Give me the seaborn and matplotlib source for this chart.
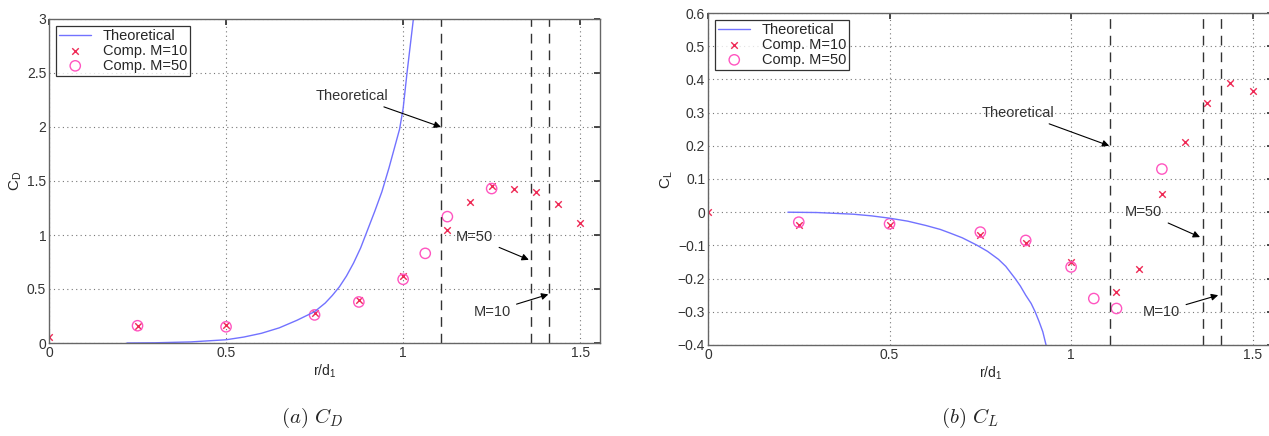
import seaborn as sns
import matplotlib
matplotlib.use("Agg")
import matplotlib.pyplot as plt

# theoretical curves
cd_theory_r = [0.22, 0.3, 0.4, 0.5, 0.55, 0.6, 0.65, 0.7, 0.75, 0.78, 0.8, 0.82, 0.84,
               0.86, 0.88, 0.9, 0.92, 0.94, 0.96, 0.975, 0.99, 1.0, 1.011, 1.02, 1.029]
cd_theory = [0.0, 0.002, 0.01, 0.03, 0.055, 0.09, 0.14, 0.21, 0.29, 0.37, 0.44, 0.52, 0.62,
             0.74, 0.88, 1.05, 1.22, 1.40, 1.62, 1.80, 1.98, 2.17, 2.5, 2.75, 3.0]
cl_theory_r = [0.22, 0.3, 0.4, 0.45, 0.5, 0.55, 0.6, 0.64, 0.667, 0.7, 0.74, 0.77, 0.8,
               0.82, 0.846, 0.86, 0.875, 0.89, 0.901, 0.912, 0.922, 0.931]
cl_theory = [0.0, -0.001, -0.006, -0.011, -0.018, -0.027, -0.04, -0.052, -0.063, -0.077,
             -0.099, -0.118, -0.142, -0.163, -0.20, -0.222, -0.25, -0.275, -0.30, -0.33,
             -0.36, -0.40]

# computed values, M=10 and M=50
m10_r = [0, 0.25, 0.5, 0.75, 0.875, 1.0, 1.125, 1.1875, 1.25, 1.3125, 1.375, 1.4375, 1.5]
cd_m10 = [0.06, 0.16, 0.17, 0.28, 0.40, 0.62, 1.05, 1.31, 1.45, 1.43, 1.40, 1.29, 1.11]
cl_m10 = [0.0, -0.04, -0.04, -0.07, -0.093, -0.15, -0.24, -0.17, 0.054, 0.21, 0.33, 0.39, 0.365]
m50_r = [0.25, 0.5, 0.75, 0.875, 1.0, 1.0625, 1.125, 1.25]
cd_m50 = [0.16, 0.15, 0.26, 0.38, 0.59, 0.83, 1.17, 1.43]
cl_m50 = [-0.03, -0.035, -0.06, -0.085, -0.165, -0.26, -0.29, 0.13]

# dashed vertical limits: theoretical, M=50, M=10
limit_r = [1.107, 1.362, 1.412]

sns.set_theme(style="white")
plt.rcParams["font.family"] = ["Liberation Sans", "DejaVu Sans"]
plt.rcParams["mathtext.fontset"] = "cm"

line_col = "#7272ff"
x_col = "#ee2a55"
o_col = "#ff55c0"

fig = plt.figure(figsize=(12.69, 4.36), dpi=100)
ax1 = fig.add_axes([49 / 1269, 1 - 343 / 436, 551 / 1269, 324 / 436])
ax2 = fig.add_axes([708 / 1269, 1 - 345 / 436, 565 / 1269, 332 / 436])


def draw(ax, th_r, th, c10, c50, ylim, yticks, ylab, notes):
    sns.lineplot(x=th_r, y=th, ax=ax, color=line_col, lw=1.0, sort=False,
                 label="Theoretical")
    sns.scatterplot(x=m10_r, y=c10, ax=ax, marker="x", color=x_col, s=22,
                    linewidth=1.0, label="Comp. M=10")
    sns.scatterplot(x=m50_r, y=c50, ax=ax, marker="o", facecolor="none",
                    edgecolor=o_col, s=55, linewidth=1.0, label="Comp. M=50")
    for v in limit_r:
        ax.axvline(v, color="#333333", lw=1.0, dashes=(7, 5))
    ax.set_xlim(0, 1.556)
    ax.set_ylim(*ylim)
    ax.set_xticks([0, 0.5, 1, 1.5])
    ax.set_xticklabels(["0", "0.5", "1", "1.5"])
    ax.set_yticks(yticks)
    ax.set_yticklabels([f"{t:g}".replace("-", "\u2212") for t in yticks])
    ax.grid(True, color="#777777", lw=0.8, linestyle=(0, (1, 3)))
    ax.tick_params(direction="in", top=True, right=True, length=4,
                   labelsize=10, colors="#333333", pad=2)
    for s in ax.spines.values():
        s.set_color("#666666")
        s.set_linewidth(1.0)
    ax.set_xlabel(r"r/d$_{\mathregular{1}}$", fontsize=10, labelpad=2)
    ax.set_ylabel(ylab, fontsize=11, labelpad=2)
    for txt, xy, xytext in notes:
        ax.annotate(txt, xy=xy, xytext=xytext, ha="center", va="center",
                    fontsize=10.5, color="#333333",
                    arrowprops=dict(arrowstyle="-|>", color="black", lw=0.8,
                                    mutation_scale=10, shrinkB=0))
    leg = ax.legend(loc="upper left", fontsize=10.5, frameon=True, fancybox=False,
                    borderpad=0.2, labelspacing=0.05, handlelength=2.2,
                    handletextpad=0.8, borderaxespad=0.5)
    leg.get_frame().set_edgecolor("black")
    leg.get_frame().set_linewidth(0.9)


draw(ax1, cd_theory_r, cd_theory, cd_m10, cd_m50, (0, 3),
     [0, 0.5, 1, 1.5, 2, 2.5, 3], r"C$_{\mathregular{D}}$",
     [("Theoretical", (1.107, 2.0), (0.856, 2.29)),
      ("M=50", (1.355, 0.77), (1.202, 0.98)),
      ("M=10", (1.41, 0.45), (1.251, 0.29))])
draw(ax2, cl_theory_r, cl_theory, cl_m10, cl_m50, (-0.4, 0.6),
     [-0.4, -0.3, -0.2, -0.1, 0, 0.1, 0.2, 0.3, 0.4, 0.5, 0.6], r"C$_{\mathregular{L}}$",
     [("Theoretical", (1.105, 0.2), (0.855, 0.30)),
      ("M=50", (1.355, -0.075), (1.20, 0.0)),
      ("M=10", (1.405, -0.25), (1.249, -0.30))])

fig.text(312 / 1269, 1 - 418 / 436, r"$\mathit{(a)}\ C_D$", ha="center", va="center",
         fontsize=15)
fig.text(970 / 1269, 1 - 418 / 436, r"$\mathit{(b)}\ C_L$", ha="center", va="center",
         fontsize=15)

fig.savefig("out.png", dpi=100)
